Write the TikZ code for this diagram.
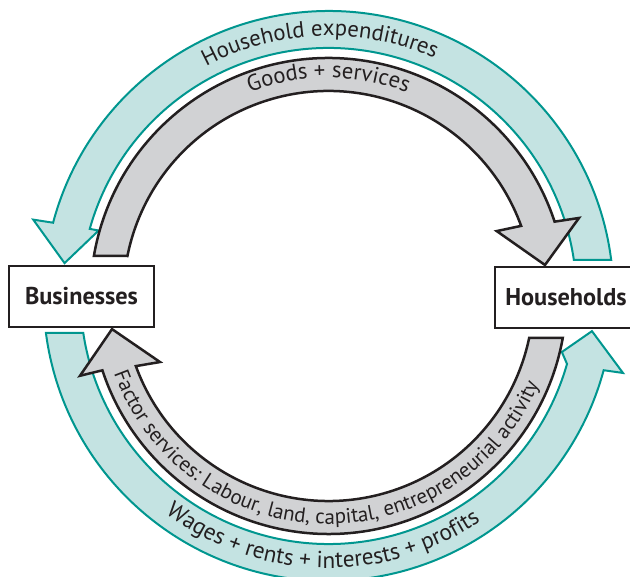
\documentclass[tikz,border=0pt]{standalone}
\usepackage{fontspec}
\setmainfont{PT Sans}
\usetikzlibrary{decorations.text}
\definecolor{tealfill}{RGB}{196,227,226}
\definecolor{tealline}{RGB}{0,150,143}
\definecolor{grayfill}{RGB}{209,210,212}
\definecolor{ink}{RGB}{35,31,32}
\newcommand\ArcFont{\fontsize{22.7}{26}\selectfont\color{ink}}
\newcommand\ArcFontB{\fontsize{23.2}{27}\selectfont\color{ink}}
\newcommand\ArcFontS{\fontsize{21}{25}\selectfont\color{ink}}
\begin{document}
\begin{tikzpicture}[x=1pt,y=1pt,
  tealarrow/.style={fill=tealfill, draw=tealline, line width=2pt},
  grayarrow/.style={fill=grayfill, draw=ink, line width=2.5pt},
  box/.style={draw=ink, line width=2pt, fill=white, minimum width=145pt, minimum height=61pt, inner sep=0pt, font=\fontsize{24.3}{28}\selectfont\bfseries, text=ink}
]
\useasboundingbox (0,0) rectangle (630,577);
\clip (0,0) rectangle (630,577);
\coordinate (C) at (328.5,281);
\begin{scope}[shift={(C)}]
  % household expenditures (top, teal)
  \path[tealarrow] (7.3:285pt) arc[start angle=7.3, end angle=165.1, radius=285pt]
    -- (165.5:305pt) -- (172.9:266pt) -- (164.1:239pt) -- (164.3:248pt)
    arc[start angle=164.3, end angle=8.35, radius=248pt] -- cycle;
  % wages (bottom, teal)
  \path[tealarrow] (187.46:285pt) arc[start angle=187.46, end angle=344.9, radius=285pt]
    -- (345.35:304.4pt) -- (352.4:265.8pt) -- (346.5:240pt) -- (344.1:248pt)
    arc[start angle=344.1, end angle=188.58, radius=248pt] -- cycle;
  % goods + services (top, gray)
  \path[grayarrow] (170.3:238pt) arc[start angle=170.3, end angle=18.2, radius=238pt]
    -- (17.3:262.4pt) -- (8.15:218.7pt) -- (21.1:180.3pt) -- (20:205pt)
    arc[start angle=20, end angle=168.75, radius=205pt] -- cycle;
  % factor services (bottom, gray)
  \path[grayarrow] (349.84:238pt) arc[start angle=349.84, end angle=198.2, radius=238pt]
    -- (197.8:261pt) -- (188.7:219pt) -- (201.4:181pt) -- (200:205pt)
    arc[start angle=200, end angle=348.2, radius=205pt] -- cycle;
  % labels along the arcs
  \path[decorate, decoration={text along path, text align=center,
      text={|\ArcFont|Household expenditures}}]
    (152:260pt) arc[start angle=152, end angle=32, radius=260pt];
  \path[decorate, decoration={text along path, text align=center,
      text={|\ArcFont|Goods + services}}]
    (150:218pt) arc[start angle=150, end angle=30, radius=218pt];
  \path[decorate, decoration={text along path, text align=center,
      text={|\ArcFontS|Factor services: Labour, land, capital, entrepreneurial activity}}]
    (188:228pt) arc[start angle=188, end angle=349, radius=228pt];
  \path[decorate, decoration={text along path, text align=center,
      text={|\ArcFontB|Wages + rents + interests + profits}}]
    (198.6:272pt) arc[start angle=198.6, end angle=338.6, radius=272pt];
\end{scope}
\node[box] (bus) at (81.5,280.5) {Businesses};
\node[box, minimum width=142pt] (hh) at (566,279.5) {Households};
\end{tikzpicture}
\end{document}
